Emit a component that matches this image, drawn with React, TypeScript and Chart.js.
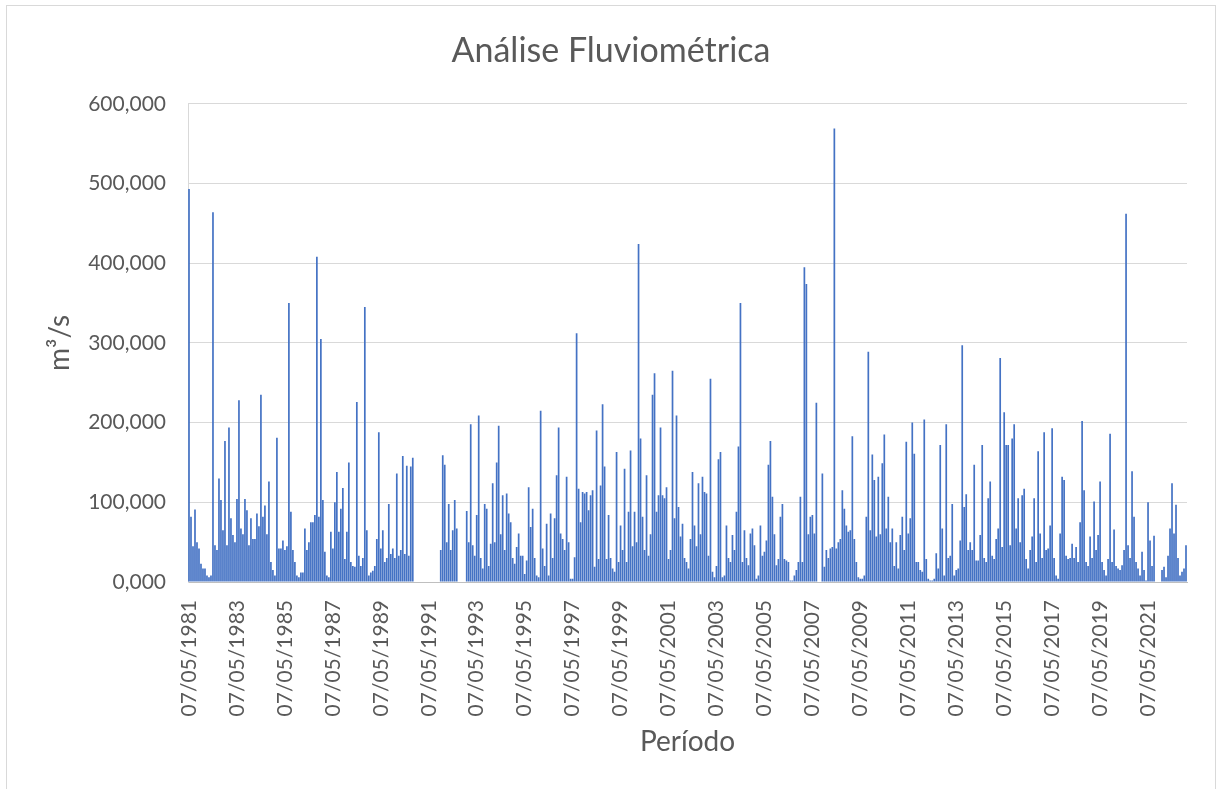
import React, { useEffect, useRef } from "react";
import { Chart, registerables } from "chart.js";

Chart.register(...registerables);

// Monthly peak discharge (m³/s), series starts 07/05/1981. null = no record.
const Y1981 = [493, 82, 45, 91, 50, 42, 23, 17];
const Y1982 = [17, 8, 6, 8, 464, 46, 40, 130, 103, 65, 177, 46];
const Y1983 = [194, 80, 59, 50, 104, 228, 67, 60, 104, 90, 46, 80];
const Y1984 = [54, 54, 86, 70, 235, 82, 96, 60, 126, 25, 15, 8];
const Y1985 = [181, 42, 42, 52, 40, 45, 350, 88, 40, 25, 8, 6];
const Y1986 = [12, 12, 67, 40, 50, 75, 75, 84, 408, 82, 305, 103];
const Y1987 = [38, 8, 6, 63, 42, 100, 138, 63, 92, 118, 29, 63];
const Y1988 = [150, 25, 20, 19, 226, 33, 20, 30, 345, 65, 8, 12];
const Y1989 = [14, 20, 54, 188, 42, 65, 25, 30, 98, 35, 42, 30];
const Y1990 = [136, 33, 40, 158, 35, 146, 33, 145, 156, null, null, null];
const Y1991 = [null, null, null, null, null, null, null, null, null, null, 40, 159];
const Y1992 = [147, 50, 98, 40, 65, 103, 67, null, null, null, null, 89];
const Y1993 = [50, 198, 46, 33, 84, 209, 30, 17, 98, 92, 20, 48];
const Y1994 = [124, 50, 150, 196, 60, 109, 40, 111, 86, 75, 30, 23];
const Y1995 = [44, 61, 33, 33, 10, 27, 119, 69, 92, 30, 8, 6];
const Y1996 = [215, 42, 20, 73, 8, 86, 30, 80, 134, 194, 61, 54];
const Y1997 = [40, 132, 50, 4, 4, 31, 312, 117, 75, 113, 111, 113];
const Y1998 = [90, 109, 115, 19, 190, 29, 121, 223, 145, 29, 84, 30];
const Y1999 = [17, 13, 163, 25, 71, 40, 142, 25, 88, 165, 45, 88];
const Y2000 = [50, 424, 180, 82, 40, 134, 33, 60, 235, 262, 88, 109];
const Y2001 = [194, 109, 105, 119, 29, 40, 265, 80, 209, 94, 57, 73];
const Y2002 = [30, 25, 17, 54, 138, 71, 45, 124, 60, 132, 113, 111];
const Y2003 = [33, 255, 13, 6, 20, 154, 163, 6, 8, 71, 30, 25];
const Y2004 = [59, 40, 88, 170, 350, 25, 65, 30, 21, 61, 67, 46];
const Y2005 = [4, 8, 71, 33, 38, 52, 147, 177, 107, 60, 21, 29];
const Y2006 = [82, 98, 29, 27, 25, 2, 2, 8, 15, 25, 107, 25];
const Y2007 = [395, 374, 60, 82, 84, 61, 225, null, null, 136, 19, 40];
const Y2008 = [30, 42, 44, 569, 42, 50, 54, 115, 92, 71, 63, 65];
const Y2009 = [183, 54, 25, 6, 4, 4, 8, 82, 289, 65, 160, 128];
const Y2010 = [57, 132, 60, 149, 185, 67, 107, 50, 67, 20, 50, 17];
const Y2011 = [59, 82, 40, 176, 61, 80, 200, 161, 25, 25, 15, 13];
const Y2012 = [204, 29, 4, 2, 2, 4, 36, 17, 172, 67, 8, 198];
const Y2013 = [30, 33, 98, 8, 15, 17, 52, 297, 94, 110, 40, 50];
const Y2014 = [40, 147, 27, 27, 59, 172, 30, 25, 105, 126, 33, 29];
const Y2015 = [54, 67, 281, 44, 213, 172, 172, 46, 180, 198, 67, 105];
const Y2016 = [50, 109, 117, 29, 17, 40, 57, 105, 25, 164, 61, 30];
const Y2017 = [188, 40, 42, 71, 193, 30, 8, 4, 61, 132, 128, 33];
const Y2018 = [29, 30, 48, 30, 44, 25, 75, 202, 115, 25, 20, 57];
const Y2019 = [30, 101, 40, 59, 126, 25, 15, 8, 29, 186, 25, 66];
const Y2020 = [20, 17, 15, 21, 40, 462, 46, 30, 139, 82, 25, 17];
const Y2021 = [8, 38, 15, 2, 100, 52, 20, 58, null, null, null, 15];
const Y2022 = [19, 6, 33, 67, 124, 61, 97, 30, 8, 13, 17, 46];

const YEAR_ROWS: [number, number, (number | null)[]][] = [
  [1981, 5, Y1981], [1982, 1, Y1982], [1983, 1, Y1983], [1984, 1, Y1984],
  [1985, 1, Y1985], [1986, 1, Y1986], [1987, 1, Y1987], [1988, 1, Y1988],
  [1989, 1, Y1989], [1990, 1, Y1990], [1991, 1, Y1991], [1992, 1, Y1992],
  [1993, 1, Y1993], [1994, 1, Y1994], [1995, 1, Y1995], [1996, 1, Y1996],
  [1997, 1, Y1997], [1998, 1, Y1998], [1999, 1, Y1999], [2000, 1, Y2000],
  [2001, 1, Y2001], [2002, 1, Y2002], [2003, 1, Y2003], [2004, 1, Y2004],
  [2005, 1, Y2005], [2006, 1, Y2006], [2007, 1, Y2007], [2008, 1, Y2008],
  [2009, 1, Y2009], [2010, 1, Y2010], [2011, 1, Y2011], [2012, 1, Y2012],
  [2013, 1, Y2013], [2014, 1, Y2014], [2015, 1, Y2015], [2016, 1, Y2016],
  [2017, 1, Y2017], [2018, 1, Y2018], [2019, 1, Y2019], [2020, 1, Y2020],
  [2021, 1, Y2021], [2022, 1, Y2022],
];

const VALUES = YEAR_ROWS.flatMap(([, , v]) => v);
const LABELS = YEAR_ROWS.flatMap(([y, m0, v]) =>
  v.map((_, k) => `07/${String(m0 + k).padStart(2, "0")}/${y}`)
);
const TICK_EVERY = 24; // one label each two years (07/05/1981, 07/05/1983, ...)

const Y_TICKS = [0, 100, 200, 300, 400, 500, 600];

const TITLE = "Análise Fluviométrica";
const X_TITLE = "Período";
const Y_TITLE = "m³/s";

const FONT = "Lato, 'Open Sans', sans-serif";
const TEXT = "#595959";
const BLUE = "#4472C4";

export default function App() {
  const ref = useRef<HTMLCanvasElement | null>(null);

  useEffect(() => {
    if (!ref.current) return;
    const chart = new Chart(ref.current, {
      type: "bar",
      data: {
        labels: LABELS,
        datasets: [
          {
            data: VALUES,
            backgroundColor: BLUE,
            borderWidth: 0,
            barPercentage: 0.85,
            categoryPercentage: 1,
          },
        ],
      },
      options: {
        animation: false,
        responsive: false,
        devicePixelRatio: 1,
        layout: { padding: { left: 35, right: 29, top: 0, bottom: 0 } },
        plugins: {
          legend: { display: false },
          tooltip: { enabled: false },
          title: {
            display: true,
            text: TITLE,
            color: TEXT,
            font: { family: FONT, size: 34, weight: "normal" },
            padding: { top: 31, bottom: 32 },
          },
        },
        scales: {
          x: {
            type: "category",
            offset: true,
            grid: { display: false, drawTicks: false },
            border: { display: true, color: "#bfbfbf", width: 1 },
            ticks: {
              autoSkip: false,
              maxRotation: 90,
              minRotation: 90,
              padding: 18,
              color: TEXT,
              font: { family: FONT, size: 21 },
              callback: (_v: any, i: number) =>
                i % TICK_EVERY === 0 ? LABELS[i] : null,
            },
            title: {
              display: true,
              text: X_TITLE,
              color: TEXT,
              font: { family: FONT, size: 28 },
              padding: { top: 0, bottom: 30 },
            },
            afterFit: (s: any) => {
              s.height = 207;
            },
          },
          y: {
            min: 0,
            max: 600,
            afterBuildTicks: (s: any) => {
              s.ticks = Y_TICKS.map((v) => ({ value: v }));
            },
            grid: { color: "#d9d9d9", drawTicks: false },
            border: { display: true, color: "#d9d9d9", width: 1 },
            ticks: {
              padding: 22,
              color: TEXT,
              font: { family: FONT, size: 21 },
              callback: (v: any) => Number(v).toFixed(3).replace(".", ","),
            },
            title: {
              display: true,
              text: Y_TITLE,
              color: TEXT,
              font: { family: FONT, size: 28 },
              padding: { top: 8, bottom: 0 },
            },
            afterFit: (s: any) => {
              s.width = 153;
            },
          },
        },
      },
    });
    return () => chart.destroy();
  }, []);

  return (
    <div
      style={{
        position: "absolute",
        left: 0,
        top: 0,
        width: 1216,
        height: 789,
        background: "#fff",
        overflow: "hidden",
      }}
    >
      <canvas ref={ref} width={1216} height={789} style={{ display: "block" }} />
      <div
        style={{
          position: "absolute",
          left: 6,
          top: 5,
          width: 1208,
          height: 800,
          border: "1px solid #d9d9d9",
          pointerEvents: "none",
        }}
      />
    </div>
  );
}
